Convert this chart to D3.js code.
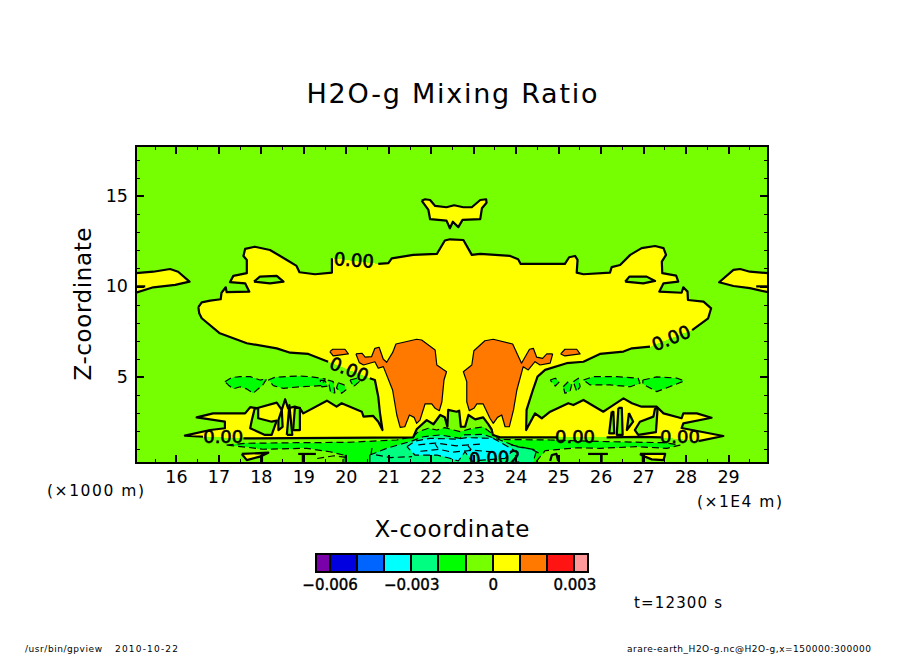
<!DOCTYPE html>
<html>
<head>
<meta charset="utf-8">
<script src="https://cdn.jsdelivr.net/npm/d3@7"></script>
<style>
  body { margin: 0; background: #fff; }
  svg { display: block; }
  text { font-family: "DejaVu Sans", sans-serif; fill: #000; }
</style>
</head>
<body>
<svg id="svg" width="904" height="654"></svg>
<script>
// colour bar
const levels = [-0.006, -0.005, -0.004, -0.003, -0.002, -0.001, 0, 0.001, 0.002, 0.003];
const bandColors = ["#7a00aa", "#0000e0", "#0064ff", "#00ffff", "#00ff80", "#00ff00", "#76ff00", "#ffff00", "#ff7800", "#ff1414", "#ff9999"];
const barTicks = [-0.006, -0.003, 0, 0.003];
const barEnds = [-0.0065, 0.0035];

// axes, x in 1E4 m and z in 1000 m
const xMajor = [16, 17, 18, 19, 20, 21, 22, 23, 24, 25, 26, 27, 28, 29];
const xMinor = [15.5, 16.5, 17.5, 18.5, 19.5, 20.5, 21.5, 22.5, 23.5, 24.5, 25.5, 26.5, 27.5, 28.5, 29.5];
const zMajor = [5, 10, 15];
const zMinor = [1, 2, 3, 4, 6, 7, 8, 9, 11, 12, 13, 14, 16, 17];

// contours as [x, z], null = gap left for a contour label
const mainCloud = [
  [16.48, 8.85], [16.56, 9.12], [16.76, 9.21], [17.01, 9.29], [17.03, 9.65], [17.13, 9.95], [17.15, 9.68], [17.69, 9.71],
  [17.59, 10.17], [17.23, 10.23], [17.31, 10.58], [17.63, 10.73], [17.63, 11.46], [17.55, 11.68], [17.59, 12.07], [17.82, 12.19],
  [18.18, 12.01], [18.58, 11.46], [18.81, 11.13], [18.88, 10.78], [19.25, 10.67], [19.65, 10.76], [19.65, 11.55], null,
  [20.75, 11.24], [20.99, 11.28], [21.07, 11.55], [21.58, 11.74], [22.14, 11.79], [22.33, 12.53], [22.45, 12.6], [22.77, 12.56],
  [22.97, 11.74], [23.17, 11.79], [23.88, 11.68], [24.07, 11.5], [24.13, 11.24], [25.18, 11.24], [25.28, 11.61], [25.42, 11.68],
  [25.48, 11.46], [25.46, 10.76], [25.62, 10.67], [26.25, 10.76], [26.29, 11.06], [26.49, 11.18], [26.73, 11.74], [27, 12.11],
  [27.32, 12.23], [27.52, 12.11], [27.58, 11.74], [27.48, 11.37], [27.49, 10.73], [27.82, 10.59], [27.87, 10.26], [27.52, 10.17],
  [27.42, 9.71], [27.95, 9.65], [27.99, 9.95], [28.09, 9.71], [28.1, 9.25], [28.47, 9.16], [28.65, 8.79], [28.58, 8.24], [28.2, 7.59], null,
  [27.2, 6.67], [26.77, 6.58], [26.57, 6.4], [26.01, 6.27], [25.62, 5.84], [25.22, 5.76], [24.71, 5.39], [24.53, 5.02], [24.42, 4.28],
  [24.27, 3.18], [24.26, 2.07], [24.47, 2.99], [24.63, 2.72], [24.83, 3.08], [25.26, 3.55], [25.38, 3.45], [25.62, 3.73], [26.09, 3.08],
  [26.21, 3.27], [26.57, 3.82], [26.77, 3.55], [27, 3.36], [27.36, 3.36], [27.52, 2.99], [27.95, 2.72], [27.99, 2.99], [28.31, 2.99],
  [28.66, 2.75], [27.99, 2.44], [27.95, 2.18], [28.94, 1.74], [28.35, 1.46], null,
  [27.46, 1.67], [27.01, 1.69], [26.17, 1.67], null,
  [24.99, 1.67], [23.64, 1.67], [23.47, 1.8], [23.44, 2.11], [23.36, 2.4], [23.24, 2.77], [23.05, 2.66], [22.89, 2.9], [22.81, 2.25],
  [22.71, 2.25], [22.67, 3.14], [22.61, 3.08], [22.41, 3.18], [22.39, 2.25], [22.33, 2.77], [22.22, 2.9], [22.06, 2.39], [21.9, 2.62],
  [21.66, 2.11], [21.58, 1.67], [17.55, 1.61], null,
  [16.59, 1.7], [16.16, 1.76], [16.76, 2.07], [17.11, 2.17], [17.11, 2.53], [16.44, 2.77], [16.83, 2.99], [17.59, 2.99], [17.71, 3.33],
  [17.86, 3.27], [18.34, 3.58], [18.46, 3.18], [18.54, 3.77], [18.61, 3.27], [18.77, 3.36], [18.89, 3.27], [18.97, 2.99], [19.53, 3.69],
  [19.76, 3.36], [19.88, 3.55], [20.36, 3.08], [20.4, 2.81], [20.63, 2.85], [20.75, 2.53], [20.85, 2.07], [20.79, 3.01], [20.75, 3.91],
  [20.67, 4.83], [20.55, 4.93], null,
  [19.56, 5.84], [19.09, 6.27], [18.66, 6.34], [18.34, 6.58], [17.63, 6.86], [16.99, 7.41], [16.56, 8.24], [16.5, 8.52], [16.48, 8.85]
];
const edgeLeft = [[15, 10.73], [15.41, 10.81], [15.81, 10.96], [16, 10.81], [16.27, 10.26], [15.93, 10.08], [15.41, 9.95], [15, 9.65]];
const edgeRight = [[30, 10.73], [29.57, 10.81], [29.34, 10.96], [29.18, 10.91], [28.84, 10.23], [29.18, 10.02], [29.57, 9.9], [30, 9.68]];
const topCap = [
  [21.78, 14.73], [21.86, 14.81], [21.98, 14.77], [22.1, 14.44], [22.37, 14.37], [22.55, 14.48], [22.77, 14.37], [22.97, 14.37],
  [23.17, 14.77], [23.31, 14.81], [23.32, 14.62], [23.21, 14.31], [23.17, 13.71], [22.75, 13.67], [22.65, 13.27], [22.52, 13.57],
  [22.45, 13.21], [22.37, 13.63], [21.98, 13.71], [21.94, 14.22], [21.78, 14.73]
];
const holeLensLeft = [[17.8, 10.26], [17.94, 10.54], [18.34, 10.58], [18.5, 10.26], [18.18, 10.17], [17.8, 10.26]];
const holeLensRight = [[26.61, 10.26], [26.71, 10.54], [27.12, 10.54], [27.32, 10.3], [27.04, 10.17], [26.61, 10.26]];
const holeLowLeft = [[17.82, 3.29], [17.75, 2.62], [17.71, 2.17], [18.06, 1.8], [18.22, 1.8], [18.34, 2.59], [18.22, 2.53], [17.9, 2.72], [17.9, 3.27], [17.82, 3.29]];
const holeLowRight = [[27.32, 3.27], [27.28, 2.81], [26.96, 2.53], [26.84, 2.07], [26.92, 1.8], [27.34, 1.95], [27.36, 2.6], [27.38, 3.27], [27.32, 3.27]];
const slivers = [
  [[18.38, 2.62], [18.46, 3.18], [18.48, 2.25], [18.38, 2.07], [18.38, 2.62]],
  [[18.58, 1.8], [18.64, 3.45], [18.71, 1.8], [18.58, 1.8]],
  [[18.77, 3.29], [18.73, 2.07], [18.89, 2.07], [18.89, 3.29], [18.77, 3.29]],
  [[26.29, 3.08], [26.23, 1.89], [26.35, 1.89], [26.33, 3.08], [26.29, 3.08]],
  [[26.45, 3.29], [26.41, 1.8], [26.55, 1.8], [26.53, 3.29], [26.45, 3.29]],
  [[26.7, 3.01], [26.65, 2.07], [26.8, 2.53], [26.7, 3.01]]
];
const orangeLeft = [
  [20.22, 6.27], [20.36, 6.31], [20.44, 6.09], [20.59, 6.12], [20.67, 6.58], [20.77, 6.64], [20.87, 5.98], [20.95, 5.81], [21.09, 6.34],
  [21.17, 6.82], [21.66, 7.08], [21.78, 7.04], [22.1, 6.49], [22.14, 5.66], [22.37, 5.29], [22.31, 4.83], [22.26, 3.63], [22.2, 3.14],
  [22.1, 3.27], [22.02, 3.51], [21.86, 3.51], [21.74, 2.62], [21.66, 2.44], [21.6, 2.77], [21.49, 2.9], [21.38, 2.25], [21.27, 2.22],
  [21.19, 2.9], [21.09, 4.28], [20.87, 5.57], [20.75, 5.48], [20.67, 5.84], [20.4, 5.66], [20.3, 5.79], [20.22, 6.27]
];
const orangeRight = [
  [24.89, 6.27], [24.75, 6.27], [24.65, 6.03], [24.51, 6.09], [24.43, 6.58], [24.34, 6.53], [24.15, 5.76], [23.94, 6.82], [23.48, 7.08],
  [23.28, 7], [23.02, 6.45], [22.97, 5.66], [22.77, 5.29], [22.85, 4.74], [22.85, 3.63], [22.91, 3.14], [23.02, 3.27], [23.09, 3.51],
  [23.24, 3.51], [23.4, 2.72], [23.48, 2.44], [23.58, 2.77], [23.68, 2.9], [23.76, 2.25], [23.86, 2.25], [23.96, 3.18], [24.04, 4.28],
  [24.19, 5.57], [24.31, 5.39], [24.47, 5.84], [24.59, 5.66], [24.83, 5.76], [24.89, 6.27]
];
const orangeLensLeft = [[19.6, 6.4], [19.67, 6.53], [19.96, 6.53], [20.04, 6.27], [19.68, 6.16], [19.6, 6.4]];
const orangeLensRight = [[25.08, 6.27], [25.18, 6.53], [25.46, 6.53], [25.54, 6.27], [25.18, 6.16], [25.08, 6.27]];
const greenBlobs = [
  [[17.11, 4.74], [17.27, 4.96], [17.47, 5.02], [17.71, 5.02], [17.94, 4.83], [18.1, 4.89], [18.01, 4.56], [17.78, 4.1], [17.63, 4.34], [17.47, 4.46], [17.31, 4.34], [17.19, 4.56], [17.11, 4.74]],
  [[18.14, 4.83], [18.3, 4.98], [18.81, 5.05], [19.13, 5.02], [19.49, 4.89], [19.41, 4.52], [18.89, 4.46], [18.5, 4.37], [18.26, 4.52], [18.14, 4.83]],
  [[19.37, 4.83], [19.49, 4.78], [19.55, 4.5], [19.41, 4.45], [19.37, 4.83]],
  [[19.56, 4.83], [19.68, 4.74], [19.72, 4.12], [19.62, 4.14], [19.56, 4.83]],
  [[19.8, 4.68], [19.94, 4.56], [19.98, 4.28], [19.88, 4.1], [19.76, 4.39], [19.8, 4.68]],
  [[20.08, 4.83], [20.24, 4.93], [20.3, 4.74], [20.16, 4.46], [20.08, 4.83]],
  [[24.83, 4.83], [24.95, 4.93], [25.05, 4.74], [24.95, 4.5], [24.83, 4.83]],
  [[25.14, 4.46], [25.26, 4.74], [25.34, 4.56], [25.3, 4.19], [25.18, 4.1], [25.14, 4.46]],
  [[25.38, 4.74], [25.5, 4.93], [25.54, 4.46], [25.46, 4.19], [25.38, 4.74]],
  [[25.62, 4.83], [25.85, 5.02], [26.41, 5.02], [26.92, 4.93], [26.96, 4.65], [26.73, 4.46], [26.25, 4.56], [25.78, 4.56], [25.62, 4.83]],
  [[27.03, 4.83], [27.36, 5], [27.83, 4.94], [28.01, 4.78], [27.83, 4.61], [27.36, 4.19], [27.03, 4.61], [27.03, 4.83]]
];
const greenBand = [
  [17.15, 1.24], [17.63, 1.34], [18.81, 1.37], [20, 1.39], [21.19, 1.52], [21.58, 1.7], [21.7, 1.98], [21.94, 2.17], [22.14, 2.07], [22.33, 2.2],
  [22.69, 1.98], [22.93, 2.13], [23.24, 2.25], [23.44, 1.89], [23.64, 1.55], [24.83, 1.52], [26.17, 1.43], [27.52, 1.37], [27.91, 1.24],
  [27.6, 1.06], [26.88, 1.15], [26.01, 1.06], [25.46, 1.09], [24.71, 0.93], [24.47, 0.25], [19.91, 0.25], [19.92, 0.69], [19.6, 0.87],
  [19.05, 1.06], [18.01, 1.01], [17.63, 1.12], [17.15, 1.24]
];
const springCore = [
  [20.55, 0.69], [20.95, 1.06], [21.54, 1.46], [21.82, 1.7], [22.22, 1.8], [22.69, 1.61], [22.77, 1.8], [23.24, 1.83], [23.64, 1.52],
  [24.04, 1.15], [24.51, 0.97], [24.42, 0.25], [20.55, 0.25], [20.55, 0.69]
];
const cyanCore = [
  [21.43, 1.15], [21.62, 1.46], [21.98, 1.61], [22.61, 1.57], [22.85, 1.65], [23.48, 1.61], [23.96, 0.97], [23.76, 0.51], [22.97, 0.36],
  [22.81, 0.87], [22.65, 0.36], [22.45, 0.51], [22.14, 0.69], [21.62, 0.69], [21.43, 1.15]
];
const lowLensLeft = [[17.51, 0.75], [18.14, 0.82], [17.94, 0.6], [17.63, 0.41], [17.51, 0.75]];
const lowLensRight = [[26.96, 0.75], [27.56, 0.75], [27.52, 0.41], [27.24, 0.45], [27.03, 0.65], [26.96, 0.75]];
const thickStubs = [
  [[15, 10], [15.22, 10]], [[29.72, 10], [30, 10]],
  [[18.85, 0.75], [19.27, 0.75]], [[18.96, 0.75], [18.96, 0.25]],
  [[25.73, 0.75], [26.2, 0.75]], [[26.05, 0.75], [26.05, 0.25]],
  [[27.03, 0.75], [27.03, 0.25]], [[17.99, 0.75], [17.99, 0.25]], [[19.98, 0.7], [19.98, 0.25]],
  [[24.83, 0.36], [24.87, 0.69], [24.98, 0.75], [25.02, 0.36]]
];
const dashedStubs = [
  [[20.6, 1.08], [20.58, 0.75], [21.05, 0.55], [21.55, 0.6]],
  [[21.7, 1.25], [22.1, 1.35], [22.6, 1.2], [23.2, 1.3]],
  [[21.75, 0.9], [22.2, 1], [22.5, 0.85], [23, 0.95], [23.55, 0.85]],
  [[22.88, 1.2], [22.95, 1], [22.85, 0.9]],
  [[22.1, 1.3], [22.17, 1.05]],
  [[23.9, 1.25], [24.4, 1], [24.6, 0.75]],
  [[19.3, 0.5], [19.7, 0.65], [20, 0.55]]
];
const labelTexts = ["0.00", "0.00", "0.00", "0.00", "0.00", "0.00", "0.002"];
const labelX = [20.17, 27.7, 20.06, 17.07, 25.42, 27.91, 23.52];
const labelZ = [11.46, 7.15, 5.42, 1.69, 1.69, 1.69, 0.53];
const labelAngle = [4, -22, 21, 0, 0, 0, -3];

const svg = d3.select("#svg");
const plot = { left: 136, right: 768, top: 146, bottom: 463 };

// the picture was digitised against a 15-30 sheet, the frame itself cuts just inside that
const xScale = d3.scaleLinear().domain([15, 30]).range([plot.left, plot.right]);
const xAxisScale = d3.scaleLinear().domain([15.06, 29.94]).range([plot.left, plot.right]);
const yScale = d3.scaleLinear().domain([0.25, 17.75]).range([plot.bottom, plot.top]);
const band = d3.scaleThreshold().domain(levels).range(bandColors);

const line = d3.line().defined((d) => d !== null).x((d) => xScale(d[0])).y((d) => yScale(d[1]));

svg.append("clipPath").attr("id", "plotClip").append("rect")
  .attr("x", plot.left).attr("y", plot.top)
  .attr("width", plot.right - plot.left).attr("height", plot.bottom - plot.top);

const field = svg.append("g").attr("clip-path", "url(#plotClip)");

field.append("rect")
  .attr("x", plot.left).attr("y", plot.top)
  .attr("width", plot.right - plot.left).attr("height", plot.bottom - plot.top)
  .attr("fill", band(-0.0005));

// painter's order, value is the band each patch falls in
const holes = [holeLensLeft, holeLensRight, holeLowLeft, holeLowRight].concat(slivers);
const patches = [
  { pts: mainCloud, value: 0.0005, line: "thick" },
  { pts: edgeLeft, value: 0.0005, line: "thick" },
  { pts: edgeRight, value: 0.0005, line: "thick" },
  { pts: topCap, value: 0.0005, line: "thick" },
  ...holes.map((pts) => ({ pts: pts, value: -0.0005, line: "thick" })),
  { pts: orangeLeft, value: 0.0015, line: "thin" },
  { pts: orangeRight, value: 0.0015, line: "thin" },
  { pts: orangeLensLeft, value: 0.0015, line: "thin" },
  { pts: orangeLensRight, value: 0.0015, line: "thin" },
  ...greenBlobs.map((pts) => ({ pts: pts, value: -0.0015, line: "dash" })),
  { pts: greenBand, value: -0.0015, line: "dash" },
  { pts: springCore, value: -0.0025, line: "dash" },
  { pts: cyanCore, value: -0.0035, line: "dash" },
  { pts: lowLensLeft, value: 0.0005, line: "thick" },
  { pts: lowLensRight, value: 0.0005, line: "thick" },
];

field.selectAll(".patch")
  .data(patches)
  .enter()
  .append("path")
  .attr("class", "patch")
  .attr("d", (d) => line(d.pts.filter((p) => p !== null)) + "Z")
  .attr("fill", (d) => band(d.value))
  .attr("shape-rendering", "crispEdges");

function drawLines(data, kind) {
  field.selectAll(".line-" + kind)
    .data(data)
    .enter()
    .append("path")
    .attr("class", "line-" + kind)
    .attr("d", line)
    .attr("fill", "none")
    .attr("stroke", "#000")
    .attr("stroke-width", kind === "thick" ? 2.2 : 1.2)
    .attr("stroke-dasharray", kind === "dash" ? "7,4" : null)
    .attr("stroke-linejoin", "round");
}
drawLines(patches.filter((p) => p.line === "dash").map((p) => p.pts).concat(dashedStubs), "dash");
drawLines(patches.filter((p) => p.line === "thin").map((p) => p.pts), "thin");
drawLines(patches.filter((p) => p.line === "thick").map((p) => p.pts).concat(thickStubs), "thick");

labelTexts.forEach((t, i) => {
  field.append("text")
    .attr("transform", "translate(" + xScale(labelX[i]) + "," + yScale(labelZ[i]) + ") rotate(" + labelAngle[i] + ")")
    .attr("text-anchor", "middle")
    .attr("dy", "0.36em")
    .attr("font-size", 18)
    .attr("stroke", "#000")
    .attr("stroke-width", 0.6)
    .text(t);
});

// frame and ticks on all four sides, all pointing inward
function ticks(axis, values, size, width, transform, labelled) {
  const g = svg.append("g")
    .attr("transform", transform)
    .call(axis.tickValues(values).tickSize(-size).tickPadding(8)
      .tickFormat(labelled ? (d) => d : ""));
  g.select(".domain").remove();
  g.selectAll("line").attr("stroke-width", width).attr("shape-rendering", "crispEdges");
  g.selectAll("text").attr("font-size", 17.5).attr("font-family", "DejaVu Sans");
}
const bottomAt = "translate(0," + plot.bottom + ")";
const topAt = "translate(0," + plot.top + ")";
const leftAt = "translate(" + plot.left + ",0)";
const rightAt = "translate(" + plot.right + ",0)";
ticks(d3.axisBottom(xAxisScale), xMajor, 8, 2, bottomAt, true);
ticks(d3.axisBottom(xAxisScale), xMinor, 4, 1, bottomAt, false);
ticks(d3.axisTop(xAxisScale), xMajor, 8, 2, topAt, false);
ticks(d3.axisTop(xAxisScale), xMinor, 4, 1, topAt, false);
ticks(d3.axisLeft(yScale), zMajor, 8, 2, leftAt, true);
ticks(d3.axisLeft(yScale), zMinor, 4, 1, leftAt, false);
ticks(d3.axisRight(yScale), zMajor, 8, 2, rightAt, false);
ticks(d3.axisRight(yScale), zMinor, 4, 1, rightAt, false);

svg.append("rect")
  .attr("x", plot.left).attr("y", plot.top)
  .attr("width", plot.right - plot.left).attr("height", plot.bottom - plot.top)
  .attr("fill", "none").attr("stroke", "#000").attr("stroke-width", 2)
  .attr("shape-rendering", "crispEdges");

// colour bar
const barScale = d3.scaleLinear().domain(barEnds).range([316, 588]);
const barTop = 554, barBottom = 572;
const edges = [barEnds[0]].concat(levels, [barEnds[1]]);
svg.selectAll(".cell")
  .data(bandColors)
  .enter()
  .append("rect")
  .attr("class", "cell")
  .attr("x", (d, i) => barScale(edges[i]))
  .attr("y", barTop)
  .attr("width", (d, i) => barScale(edges[i + 1]) - barScale(edges[i]))
  .attr("height", barBottom - barTop)
  .attr("fill", (d) => d)
  .attr("stroke", "#000")
  .attr("stroke-width", 2)
  .attr("shape-rendering", "crispEdges");
const barAxis = svg.append("g")
  .attr("transform", "translate(0," + barBottom + ")")
  .call(d3.axisBottom(barScale).tickValues(barTicks).tickSize(0).tickPadding(7)
    .tickFormat((d) => (d === 0 ? "0" : String(d).replace("-", "\u2212"))));
barAxis.select(".domain").remove();
barAxis.selectAll("text").attr("font-size", 15).attr("font-family", "DejaVu Sans")
  .attr("stroke", "#000").attr("stroke-width", 0.4);

// titles and notes
function label(t, x, y, size, width, anchor, rotate) {
  const el = svg.append("text")
    .attr("transform", "translate(" + x + "," + y + ")" + (rotate ? " rotate(" + rotate + ")" : ""))
    .attr("text-anchor", anchor || "start")
    .attr("font-size", size)
    .text(t);
  if (width) el.attr("textLength", width).attr("lengthAdjust", "spacing");
}
label("H2O-g Mixing Ratio", 452, 103, 27, 291, "middle");
label("X-coordinate", 452, 537, 23, 155, "middle");
label("Z-coordinate", 91, 304, 23, 153, "middle", -90);
label("(\u00d71000 m)", 47, 496, 15.5, 97);
label("(\u00d71E4 m)", 697, 507, 15.5, 85);
label("t=12300 s", 634, 608, 15, 88);
label("/usr/bin/gpview", 25, 652, 9, 77);
label("2010-10-22", 115, 652, 9, 63);
label("arare-earth_H2O-g.nc@H2O-g,x=150000:300000", 627, 652, 9, 244);
</script>
</body>
</html>
